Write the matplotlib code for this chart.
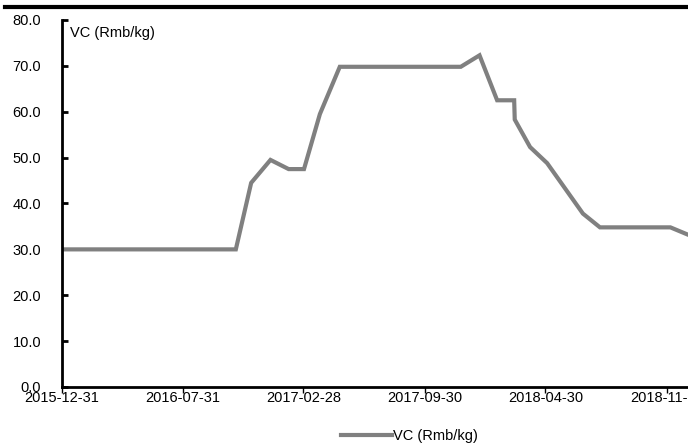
import numpy as np
import pandas as pd
import matplotlib
matplotlib.use("Agg")
import matplotlib.pyplot as plt
from matplotlib.lines import Line2D

plt.rcParams['font.family'] = ['Liberation Sans', 'DejaVu Sans']

# VC price, Rmb/kg
dates = pd.to_datetime([
    '2015-12-31', '2016-11-01', '2016-11-28', '2017-01-01', '2017-02-02',
    '2017-03-01', '2017-03-29', '2017-05-03', '2017-12-02', '2018-01-04',
    '2018-02-04', '2018-03-06', '2018-03-07', '2018-04-03', '2018-05-03',
    '2018-07-05', '2018-08-04', '2018-12-06', '2019-01-06',
])
vc = [30, 30, 44.5, 49.5, 47.5,
      47.5, 59.5, 69.8, 69.8, 72.3,
      62.5, 62.5, 58.3, 52.3, 48.8,
      37.8, 34.8, 34.8, 33.2]

tick_dates = pd.to_datetime(['2015-12-31', '2016-07-31', '2017-02-28',
                             '2017-09-30', '2018-04-30', '2018-11-30'])
tick_labels = ['2015-12-31', '2016-07-31', '2017-02-28',
               '2017-09-30', '2018-04-30', '2018-11-30']

fig = plt.figure(figsize=(6.88, 4.46), dpi=100)
ax = fig.add_axes([62 / 688, 59 / 446, 626 / 688, 367 / 446])

line, = ax.plot(dates, vc, color='#808080', lw=3.0, solid_joinstyle='miter',
                label='VC (Rmb/kg)')

ax.set_ylim(0, 80)
ax.set_yticks(np.arange(0, 81, 10))
ax.set_yticklabels(['%.1f' % v for v in np.arange(0, 81, 10)])
ax.set_xlim(pd.Timestamp('2015-12-31'), pd.Timestamp('2019-01-06'))
ax.set_xticks(tick_dates)
ax.set_xticklabels(tick_labels)

for s in ['top', 'right']:
    ax.spines[s].set_visible(False)
for s in ['left', 'bottom']:
    ax.spines[s].set_linewidth(2)

ax.tick_params(axis='y', direction='in', length=4, width=2, pad=15, labelsize=10.5)
ax.tick_params(axis='x', direction='out', length=4, width=1, pad=-1, labelsize=10.5)

ax.text(0.012, 0.965, 'VC (Rmb/kg)', transform=ax.transAxes, fontsize=10.5,
        ha='left', va='center')

fig.legend(handles=[line], loc='lower center', bbox_to_anchor=(0.595, -0.022),
           frameon=False, fontsize=10.5, handlelength=3.5, handletextpad=0.1)

# thick rule across the top
fig.add_artist(Line2D([5 / 688, 1.0], [1 - 7 / 446, 1 - 7 / 446],
                      color='black', lw=3, transform=fig.transFigure))

fig.savefig('out.png', dpi=100)
